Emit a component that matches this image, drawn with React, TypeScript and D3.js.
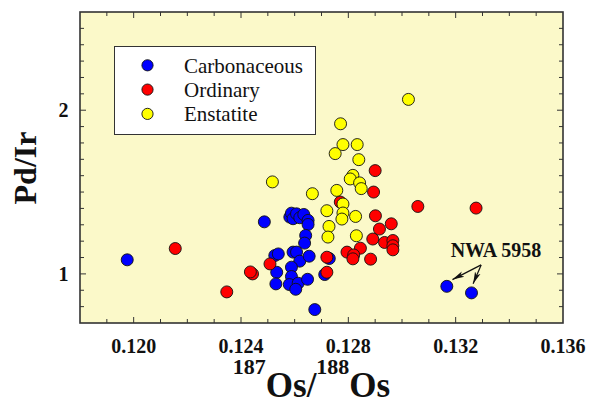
import React from 'react';
import * as d3 from 'd3';

// [187Os/188Os, Pd/Ir]
const carbonaceous: [number, number][] = [
  [0.11976, 1.086], [0.12487, 1.318], [0.12582, 1.347], [0.12588, 1.371],
  [0.12594, 1.337], [0.12607, 1.367], [0.12619, 1.343], [0.12634, 1.363],
  [0.1265, 1.327], [0.1265, 1.302], [0.12641, 1.235], [0.12637, 1.188],
  [0.12526, 1.112], [0.12539, 1.122], [0.12594, 1.133], [0.12607, 1.133],
  [0.12619, 1.078], [0.12654, 1.108], [0.12588, 1.041], [0.12533, 1.01],
  [0.12588, 0.984], [0.1253, 0.939], [0.1258, 0.935], [0.12613, 0.943],
  [0.12604, 0.906], [0.12648, 0.967], [0.12675, 0.782], [0.12712, 0.996],
  [0.12729, 1.094], [0.13167, 0.924], [0.13259, 0.884],
];

const ordinary: [number, number][] = [
  [0.12155, 1.155], [0.12347, 0.89], [0.12443, 1.0], [0.12435, 1.012],
  [0.12508, 1.061], [0.1272, 1.102], [0.1272, 1.01], [0.1277, 1.439],
  [0.129, 1.631], [0.12894, 1.5], [0.13059, 1.412], [0.13276, 1.402],
  [0.12901, 1.355], [0.1296, 1.306], [0.12916, 1.274], [0.12891, 1.213],
  [0.12935, 1.192], [0.12966, 1.204], [0.12966, 1.172], [0.12966, 1.147],
  [0.12845, 1.157], [0.12795, 1.133], [0.1282, 1.116], [0.12817, 1.092],
  [0.12883, 1.09],
];

const enstatite: [number, number][] = [
  [0.13024, 2.066], [0.12771, 1.917], [0.1278, 1.79], [0.12833, 1.79],
  [0.12751, 1.735], [0.12839, 1.698], [0.12817, 1.602], [0.12807, 1.58],
  [0.12842, 1.556], [0.12848, 1.521], [0.12517, 1.562], [0.12666, 1.49],
  [0.12757, 1.51], [0.1278, 1.427], [0.1278, 1.372], [0.12776, 1.335],
  [0.1272, 1.386], [0.12827, 1.351], [0.12728, 1.29], [0.12724, 1.225],
  [0.1283, 1.233],
];

const seriesNames = ['Carbonaceous', 'Ordinary', 'Enstatite'];
const seriesColors = ['#0000ff', '#ff0000', '#ffff00'];

const xTicks = [0.12, 0.124, 0.128, 0.132, 0.136];
const yTicks = [1, 2];

// annotation for NWA 5958 (data coords)
const nwaLabel = { x: 0.1335, y: 1.106, text: 'NWA 5958' };
const nwaArrowStart: [number, number] = [0.13295, 1.055];
const nwaArrowEnds: [number, number][] = [[0.13188, 0.965], [0.13265, 0.94]];

const W = 589;
const H = 406;
const margin = { top: 12, right: 26, bottom: 83, left: 80 };
const serif = '"Liberation Serif", "Times New Roman", Times, serif';

export default function App() {
  const x = d3.scaleLinear().domain([0.118, 0.136]).range([margin.left, W - margin.right]);
  const y = d3.scaleLinear().domain([0.7, 2.6]).range([H - margin.bottom, margin.top]);

  const x0 = x.range()[0], x1 = x.range()[1];
  const y0 = y.range()[0], y1 = y.range()[1];

  // minor ticks every 0.001 / 0.1
  const xMinor = d3.range(119, 136).map(v => v / 1000);
  const yMinor = d3.range(8, 26).map(v => v / 10);
  const isMajorX = (v: number) => xTicks.some(t => Math.abs(t - v) < 1e-7);
  const isMajorY = (v: number) => yTicks.some(t => Math.abs(t - v) < 1e-7);

  const series = [carbonaceous, ordinary, enstatite];

  return (
    <svg width={W} height={H} style={{ position: 'absolute', left: 0, top: 0, fontFamily: serif }}>
      <defs>
        <marker id="arr" viewBox="0 0 12 8" refX="12" refY="4" markerWidth="12" markerHeight="8"
          markerUnits="userSpaceOnUse" orient="auto">
          <path d="M0,1 L12,4 L0,7 L3,4 Z" fill="#111" />
        </marker>
      </defs>
      <rect x={x0} y={y1} width={x1 - x0} height={y0 - y1} fill="#fbf9c9" />

      {/* ticks, inward on all four sides */}
      <g stroke="#333" strokeWidth={1}>
        {xMinor.map(v => {
          const len = isMajorX(v) ? 6 : 4;
          return (
            <g key={'xt' + v}>
              <line x1={x(v)} x2={x(v)} y1={y0} y2={y0 - len} />
              <line x1={x(v)} x2={x(v)} y1={y1} y2={y1 + len} />
            </g>
          );
        })}
        {yMinor.map(v => {
          const len = isMajorY(v) ? 6 : 4;
          return (
            <g key={'yt' + v}>
              <line x1={x0} x2={x0 + len} y1={y(v)} y2={y(v)} />
              <line x1={x1} x2={x1 - len} y1={y(v)} y2={y(v)} />
            </g>
          );
        })}
      </g>

      {/* points: blue, then red, then yellow on top */}
      {series.map((pts, i) => (
        <g key={seriesNames[i]}>
          {pts.map((d, j) => (
            <circle key={j} cx={x(d[0])} cy={y(d[1])} r={6}
              fill={seriesColors[i]} stroke="#111" strokeWidth={0.9} />
          ))}
        </g>
      ))}

      {/* NWA 5958 label + arrows */}
      <text x={x(nwaLabel.x)} y={y(nwaLabel.y)} textAnchor="middle" fontSize={20} fontWeight="bold" fill="#111">
        {nwaLabel.text}
      </text>
      {nwaArrowEnds.map((e, i) => (
        <line key={i} x1={x(nwaArrowStart[0])} y1={y(nwaArrowStart[1])} x2={x(e[0])} y2={y(e[1])}
          stroke="#111" strokeWidth={1.2} markerEnd="url(#arr)" />
      ))}

      {/* frame */}
      <rect x={x0} y={y1} width={x1 - x0} height={y0 - y1} fill="none" stroke="#333" strokeWidth={1.6} />

      {/* legend */}
      <g>
        <rect x={114.5} y={46.5} width={201} height={88} fill="#fff" stroke="#333" strokeWidth={1} />
        {seriesNames.map((name, i) => (
          <g key={name} transform={`translate(0,${65.3 + i * 24.3})`}>
            <circle cx={147.5} cy={0} r={5.6} fill={seriesColors[i]} stroke="#111" strokeWidth={0.9} />
            <text x={184} y={7.3} fontSize={21} fill="#111" fontFamily={serif}>{name}</text>
          </g>
        ))}
      </g>

      {/* axis tick labels */}
      {xTicks.map(t => (
        <text key={'xl' + t} x={x(t)} y={352.5} textAnchor="middle" fontSize={20} fontWeight="bold" fill="#111" fontFamily={serif}>
          {t.toFixed(3)}
        </text>
      ))}
      {yTicks.map(t => (
        <text key={'yl' + t} x={68.5} y={y(t) + 7} textAnchor="end" fontSize={20} fontWeight="bold" fill="#111" fontFamily={serif}>
          {t}
        </text>
      ))}

      {/* axis titles */}
      <text transform="translate(36,168) rotate(-90)" textAnchor="middle" fontSize={32} fontWeight="bold" fill="#111" fontFamily={serif}>
        Pd/Ir
      </text>
      <text x={311.5} y={397} textAnchor="middle" fontWeight="bold" fill="#111" fontFamily={serif}><tspan fontSize={22} dy={-23}>187</tspan><tspan fontSize={35} dy={23}>Os/</tspan><tspan fontSize={22} dy={-23}>188</tspan><tspan fontSize={35} dy={23}>Os</tspan></text>
    </svg>
  );
}
